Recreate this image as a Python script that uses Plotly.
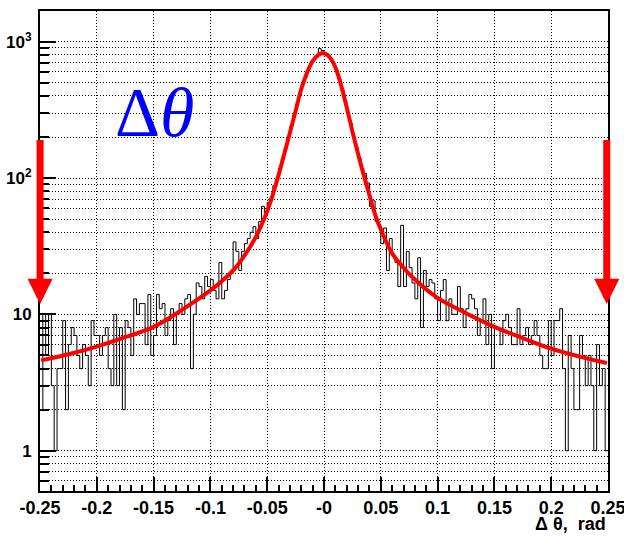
import numpy as np
import plotly.graph_objects as go

# ---------------- data ----------------
X_MIN, X_MAX = -0.25, 0.25
N_BINS = 200

counts = [
    2, 10, 5, 10, 3, 1, 4, 4, 9, 2,
    6, 8, 7, 5, 4, 6, 5, 3, 9, 7,
    7, 5, 7, 8, 4, 3, 10, 3, 8, 2,
    9, 8, 5, 13, 10, 12, 12, 6, 14, 5,
    7, 14, 11, 12, 7, 9, 11, 6, 10, 12,
    10, 13, 14, 4, 10, 17, 16, 13, 19, 16,
    18, 15, 13, 24, 13, 15, 18, 20, 34, 29,
    21, 29, 33, 36, 40, 44, 36, 48, 62, 56,
    66, 72, 88, 98, 118, 140, 165, 200, 240, 290,
    345, 400, 490, 545, 615, 700, 735, 770, 890, 860,
    815, 800, 755, 690, 615, 530, 445, 370, 300, 250,
    200, 168, 140, 118, 108, 92, 62, 68, 48, 45,
    33, 43, 21, 36, 27, 24, 16, 45, 16, 29,
    22, 17, 13, 26, 8, 21, 16, 18, 17, 13,
    9, 15, 18, 9, 13, 10, 10, 16, 11, 8,
    11, 14, 13, 11, 7, 9, 13, 6, 10, 4,
    8, 8, 6, 9, 10, 8, 6, 6, 11, 6,
    7, 8, 6, 7, 9, 7, 5, 4, 4, 9,
    5, 9, 9, 11, 4, 1, 7, 4, 2, 2,
    7, 5, 3, 5, 3, 1, 6, 3, 4, 1,
]

fit_x = [-0.249, -0.225, -0.2, -0.175, -0.15, -0.125, -0.1, -0.09, -0.08, -0.07,
         -0.06, -0.05, -0.045, -0.04, -0.035, -0.03, -0.025, -0.02, -0.015, -0.01,
         -0.005, -0.002, 0.001, 0.005, 0.01, 0.015, 0.02, 0.025, 0.03, 0.035,
         0.04, 0.045, 0.05, 0.06, 0.07, 0.08, 0.1, 0.125, 0.15, 0.175,
         0.2, 0.225, 0.249]
fit_y = [4.6, 5.1, 5.8, 6.8, 8.1, 10.8, 15, 17.5, 21, 27,
         37, 57, 76, 105, 150, 215, 310, 450, 590, 720,
         800, 822, 818, 770, 650, 480, 330, 220, 150, 105,
         75, 54, 42, 28, 22, 18, 13.2, 10.2, 8.1, 6.7,
         5.6, 4.9, 4.4]

x_tickvals = [-0.25, -0.2, -0.15, -0.1, -0.05, 0.0, 0.05, 0.1, 0.15, 0.2, 0.25]
x_ticktext = ["-0.25", "-0.2", "-0.15", "-0.1", "-0.05", "-0", "0.05", "0.1", "0.15", "0.2", "0.25"]
x_minor = [round(-0.25 + 0.01 * k, 3) for k in range(51)]

y_tickvals = [1, 10, 100, 1000]
y_ticktext = ["1", "10", "10<sup>2</sup>", "10<sup>3</sup>"]
y_minor = [0.6, 0.7, 0.8, 0.9] + [m * 10 ** d for d in range(0, 4) for m in range(2, 10)]
Y_RANGE_LOG = [-0.2956, 3.2253]

arrow_x = [-0.2499, 0.2489]
arrow_tail_y = 195.0
arrow_tip_y = 11.9

label_text = "Δ<i>θ</i>"
label_x, label_y = -0.149, 305.0
x_title = "Δ θ,  rad"

# ---------------- figure ----------------
bin_w = (X_MAX - X_MIN) / N_BINS
edges = X_MIN + bin_w * np.arange(N_BINS + 1)
hist_y = counts + [counts[-1]]

FONT = "Liberation Sans Narrow, Liberation Sans, Arial, sans-serif"

fig = go.Figure()
fig.add_trace(go.Scatter(x=edges, y=hist_y, mode="lines", line_shape="hv",
                         line=dict(color="black", width=1), hoverinfo="skip"))
fig.add_trace(go.Scatter(x=fit_x, y=fit_y, mode="lines", line_shape="spline",
                         line=dict(color="#ff0000", width=4), hoverinfo="skip"))

annotations = []
for ax_ in arrow_x:
    annotations.append(dict(
        x=ax_, y=np.log10(arrow_tip_y), ax=ax_, ay=np.log10(arrow_tail_y),
        xref="x", yref="y", axref="x", ayref="y", text="", showarrow=True,
        arrowhead=2, arrowsize=0.72, arrowwidth=7, arrowcolor="#ff0000", standoff=0))
annotations.append(dict(
    x=label_x, y=np.log10(label_y), xref="x", yref="y", text=label_text,
    showarrow=False, xanchor="center", yanchor="middle",
    font=dict(family="Liberation Serif, Times New Roman, serif", size=70, color="#0000ff")))
annotations.append(dict(
    x=1.0, y=-0.044, xref="paper", yref="paper", text="<b>" + x_title + "</b>",
    showarrow=False, xanchor="right", yanchor="top",
    font=dict(family=FONT, size=18, color="black")))

fig.update_layout(
    width=624, height=542,
    margin=dict(l=40, r=16, t=11, b=51, autoexpand=False),
    paper_bgcolor="white", plot_bgcolor="white",
    showlegend=False,
    annotations=annotations,
)

fig.update_xaxes(
    range=[X_MIN, X_MAX], tickmode="array", tickvals=x_tickvals,
    ticktext=["<b>" + t + "</b>" for t in x_ticktext],
    ticks="inside", ticklen=14, tickwidth=2, tickcolor="black",
    showline=True, linewidth=2, linecolor="black", mirror=True,
    showgrid=True, gridcolor="black", gridwidth=1, griddash="1px,2px",
    zeroline=False, automargin=False, ticklabeloverflow="allow",
    ticklabelstandoff=-1,
    minor=dict(tickmode="array", tickvals=x_minor, ticks="inside", ticklen=6,
               tickwidth=1.5, tickcolor="black", showgrid=False),
    tickfont=dict(family=FONT, size=18, color="black"),
)
fig.update_yaxes(
    type="log", range=Y_RANGE_LOG, tickmode="array", tickvals=y_tickvals,
    ticktext=["<b>" + t + "</b>" for t in y_ticktext],
    ticks="inside", ticklen=16, tickwidth=2, tickcolor="black",
    showline=True, linewidth=2, linecolor="black", mirror=True,
    showgrid=True, gridcolor="black", gridwidth=1, griddash="1px,2px",
    zeroline=False, automargin=False, ticklabeloverflow="allow",
    minor=dict(tickmode="array", tickvals=y_minor, ticks="inside", ticklen=9,
               tickwidth=1.5, tickcolor="black", showgrid=True,
               gridcolor="black", gridwidth=1, griddash="1px,2px"),
    tickfont=dict(family=FONT, size=17, color="black"),
    ticklabelstandoff=3,
)

# remove the browser's default page margin so the 624x542 figure fills the window exactly
fig.write_html("out.html",
               config={"displayModeBar": False},
               post_script="document.body.style.margin='0';document.body.style.overflow='hidden';")
